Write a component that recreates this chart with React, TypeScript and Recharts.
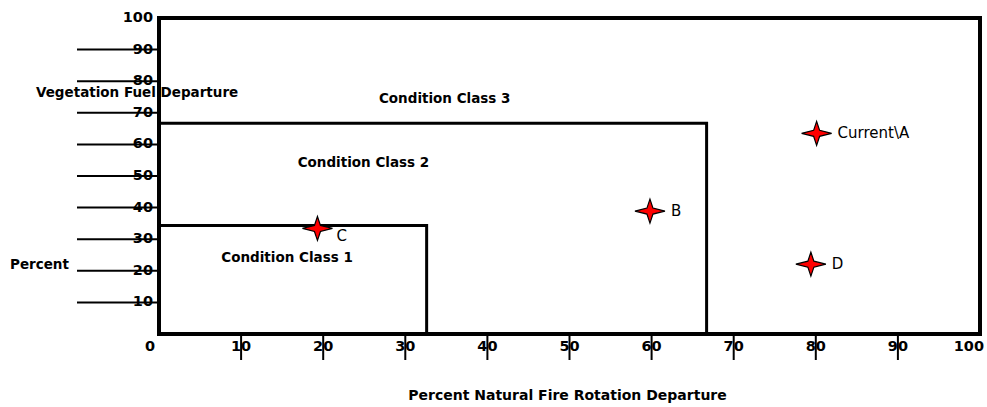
import { ScatterChart, Scatter, XAxis, YAxis, ReferenceArea } from 'recharts';

// axis ticks (percent)
const xTicks = [0, 10, 20, 30, 40, 50, 60, 70, 80, 90, 100];
const yTicks = [0, 10, 20, 30, 40, 50, 60, 70, 80, 90, 100];

// sampled points
const pointNames = ['Current\\A', 'B', 'C', 'D'];
const pointX = [80.1, 59.8, 19.3, 79.4];
const pointY = [63.5, 38.9, 33.4, 22.1];

// condition class boundaries
const class1X = [0, 32.6, 32.6];
const class1Y = [34.3, 34.3, 0];
const class2X = [0, 66.7, 66.7];
const class2Y = [66.7, 66.7, 0];

// zone captions
const zoneNames = ['Condition Class 3', 'Condition Class 2', 'Condition Class 1'];
const zoneX = [34.8, 24.9, 15.6];
const zoneY = [74.7, 54.5, 24.5];

const FONT = '"DejaVu Sans", sans-serif';

const points = pointNames.map((name, i) => ({ name, x: pointX[i], y: pointY[i] }));
const class1 = class1X.map((x, i) => ({ x, y: class1Y[i] }));
const class2 = class2X.map((x, i) => ({ x, y: class2Y[i] }));
const zones = zoneNames.map((name, i) => ({ name, x: zoneX[i], y: zoneY[i] }));

function Star(props: any) {
  const { cx, cy, payload } = props;
  const below = payload.name === 'C';
  return (
    <g>
      <path
        d={`M${cx - 15},${cy} L${cx - 3},${cy - 3} L${cx},${cy - 12} L${cx + 3},${cy - 3} L${cx + 15},${cy} L${cx + 3},${cy + 3} L${cx},${cy + 12} L${cx - 3},${cy + 3} Z`}
        fill="#ff0000"
        stroke="#000"
        strokeWidth={1.2}
      />
      <text
        x={cx + (below ? 19 : 21)}
        y={cy + (below ? 8 : 0)}
        dominantBaseline="central"
        fontFamily={FONT}
        fontSize={15}
        fill="#000"
      >
        {payload.name}
      </text>
    </g>
  );
}

function ZoneLabel(props: any) {
  const { cx, cy, payload } = props;
  return (
    <text x={cx} y={cy} textAnchor="middle" dominantBaseline="central" fontFamily={FONT} fontSize={13.5} fontWeight="bold" fill="#000">
      {payload.name}
    </text>
  );
}

function XTick(props: any) {
  const { x, y, payload } = props;
  const v = payload.value;
  const edge = v === 0 || v === 100;
  return (
    <g>
      {!edge && <line x1={x} x2={x} y1={y} y2={y + 26} stroke="#000" strokeWidth={2} />}
      <text
        x={v === 0 ? x - 4 : v === 100 ? x + 4 : x}
        y={y + 12}
        textAnchor={edge ? 'end' : 'middle'}
        dominantBaseline="central"
        fontFamily={FONT}
        fontSize={14.5}
        fontWeight="bold"
        fill="#000"
      >
        {v}
      </text>
    </g>
  );
}

function YTick(props: any) {
  const { x, y, payload } = props;
  const v = payload.value;
  if (v === 0) return <g />;
  return (
    <g>
      {v !== 100 && <line x1={x - 82} x2={x} y1={y} y2={y} stroke="#000" strokeWidth={2} />}
      <text x={x - 6} y={y - 1} textAnchor="end" dominantBaseline="central" fontFamily={FONT} fontSize={14.5} fontWeight="bold" fill="#000">
        {v}
      </text>
    </g>
  );
}

const titleStyle: React.CSSProperties = {
  position: 'absolute',
  fontFamily: FONT,
  fontSize: 13.5,
  fontWeight: 'bold',
  color: '#000',
  whiteSpace: 'nowrap',
  lineHeight: '16px',
};

export default function App() {
  return (
    <div style={{ position: 'absolute', left: 0, top: 0, width: 987, height: 407, background: '#fff' }}>
      <ScatterChart width={987} height={407} margin={{ top: 18, right: 7, left: 69, bottom: 33 }}>
        <XAxis
          type="number"
          dataKey="x"
          domain={[0, 100]}
          ticks={xTicks}
          interval={0}
          axisLine={false}
          tickLine={false}
          tickSize={0}
          tickMargin={0}
          height={40}
          tick={<XTick />}
        />
        <YAxis
          type="number"
          dataKey="y"
          domain={[0, 100]}
          ticks={yTicks}
          interval={0}
          axisLine={false}
          tickLine={false}
          tickSize={0}
          tickMargin={0}
          width={90}
          tick={<YTick />}
        />
        <ReferenceArea x1={0} x2={100} y1={0} y2={100} fill="none" fillOpacity={0} stroke="#000" strokeWidth={4} />
        <Scatter data={class2} line={{ stroke: '#000', strokeWidth: 3 }} shape={() => <g />} isAnimationActive={false} />
        <Scatter data={class1} line={{ stroke: '#000', strokeWidth: 3 }} shape={() => <g />} isAnimationActive={false} />
        <Scatter data={zones} shape={<ZoneLabel />} isAnimationActive={false} />
        <Scatter data={points} shape={<Star />} isAnimationActive={false} />
      </ScatterChart>
      <div style={{ ...titleStyle, left: 36, top: 84 }}>Vegetation Fuel Departure</div>
      <div style={{ ...titleStyle, left: 10, top: 256 }}>Percent</div>
      <div style={{ ...titleStyle, fontSize: 14, left: 0, width: 1135, top: 387, textAlign: 'center' }}>Percent Natural Fire Rotation Departure</div>
    </div>
  );
}
